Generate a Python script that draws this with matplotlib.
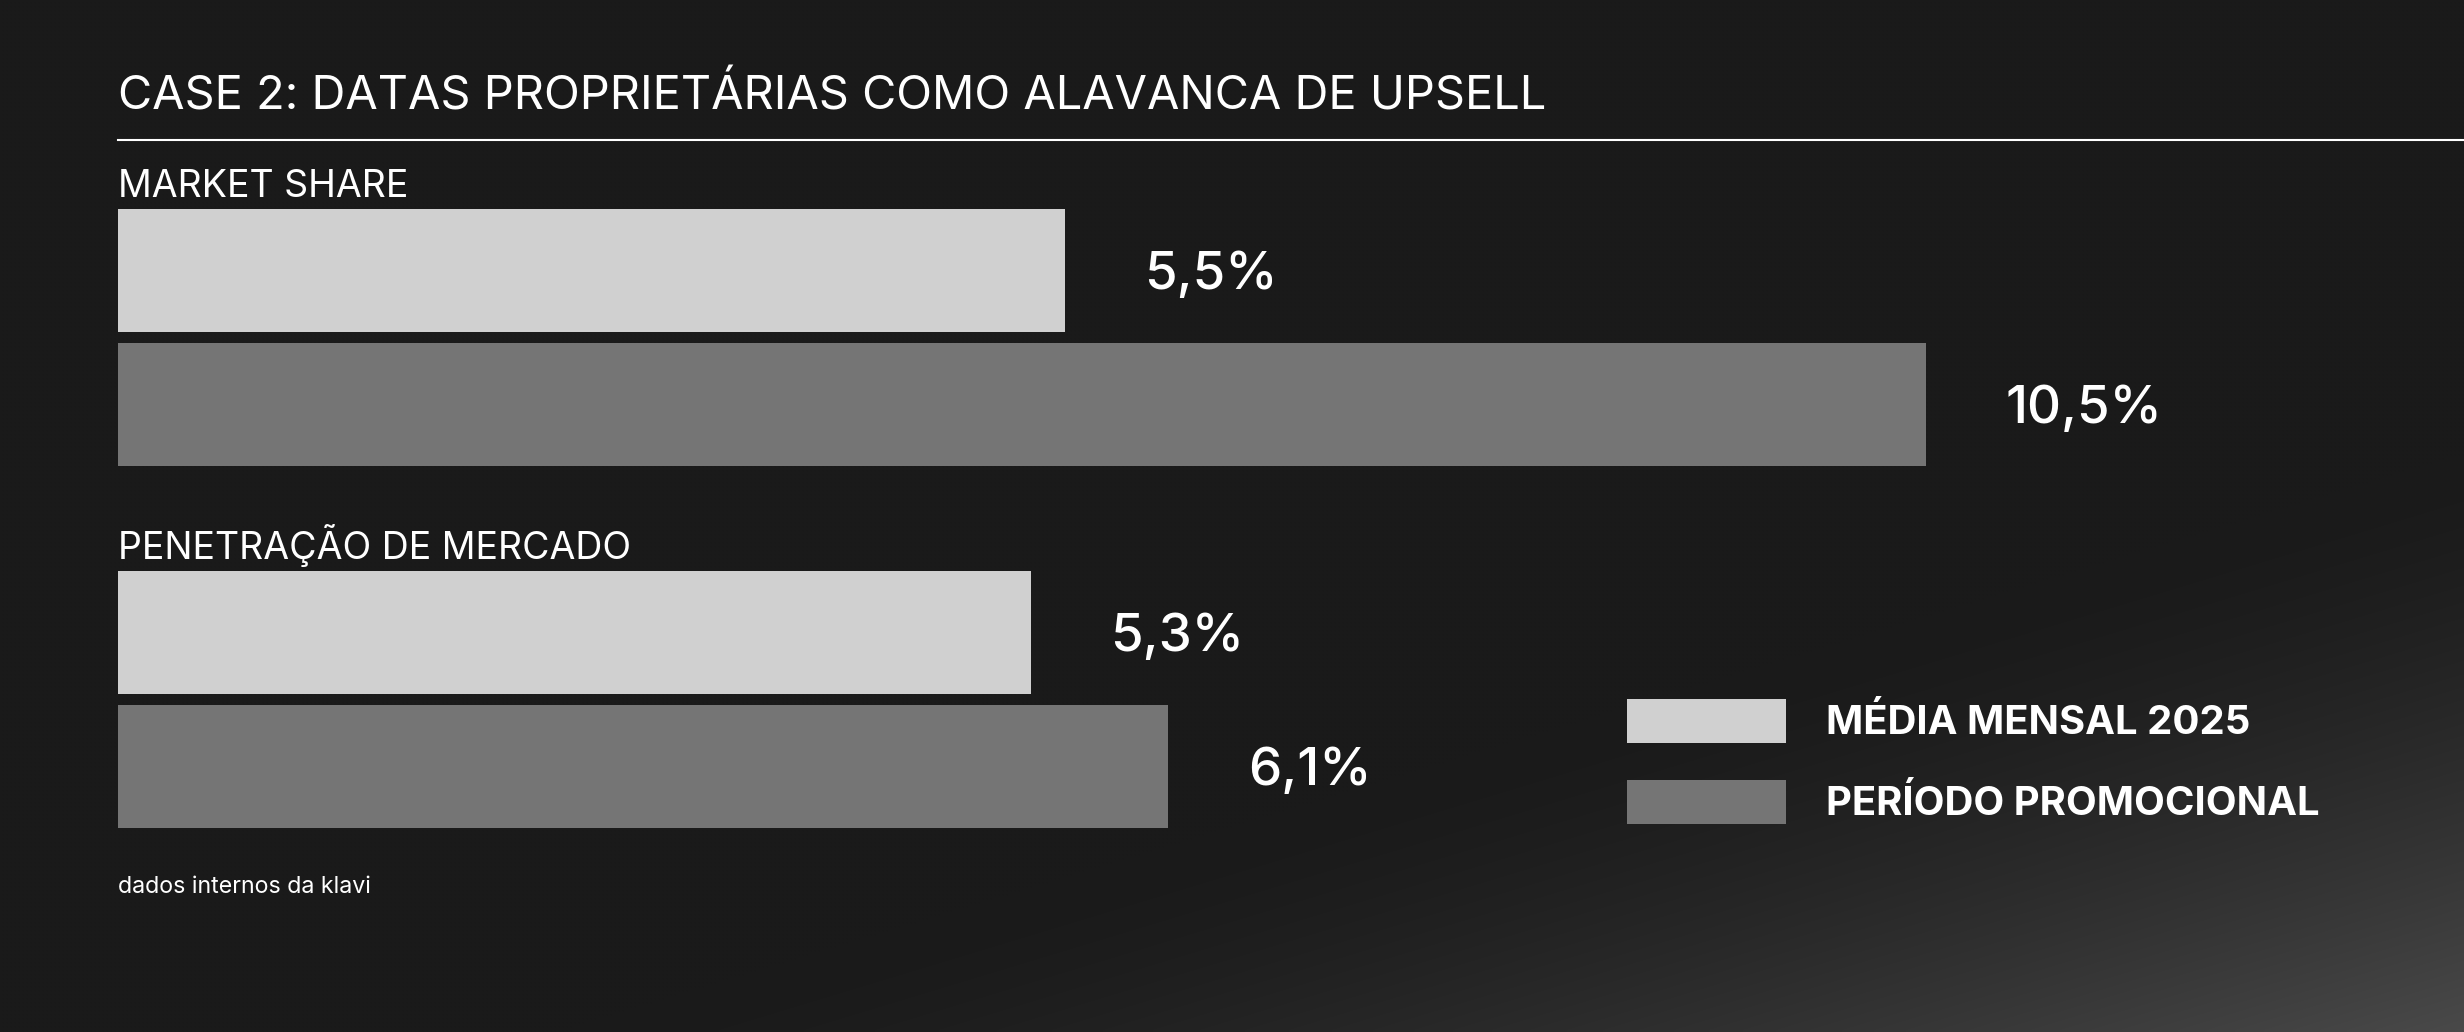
import numpy as np
import matplotlib
matplotlib.use("Agg")
import matplotlib.pyplot as plt
from matplotlib.patches import Rectangle

# ---------------- data ----------------
title = "CASE 2: DATAS PROPRIETÁRIAS COMO ALAVANCA DE UPSELL"
categories = ["MARKET SHARE", "PENETRAÇÃO DE MERCADO"]
series_names = ["MÉDIA MENSAL 2025", "PERÍODO PROMOCIONAL"]
media_mensal_2025 = [5.5, 5.3]
periodo_promocional = [10.5, 6.1]
value_labels = [["5,5%", "5,3%"], ["10,5%", "6,1%"]]
footnote = "dados internos da klavi"

# ---------------- style ----------------
W, H, DPI = 2464, 1032, 100
BG = "#1a1a1a"
colors = ["#d0d0d0", "#757575"]
FONT = ["Inter", "DejaVu Sans"]
plt.rcParams["font.family"] = FONT

fig = plt.figure(figsize=(W / DPI, H / DPI), dpi=DPI, facecolor=BG)

# background gradient (lighter towards bottom-right, diagonal band)
bg = fig.add_axes([0, 0, 1, 1], zorder=0)
yy, xx = np.mgrid[0:H:4, 0:W:4].astype(float)
s = xx * 0.29 + yy * 0.957
t = np.clip((s - 1150.0) / 553.0, 0, 1) ** 1.5
v = (26 + 48 * t) / 255.0
img = np.dstack([v, v, v])
bg.imshow(img, extent=[0, W, H, 0], aspect="auto", interpolation="bilinear")
bg.set_xlim(0, W)
bg.set_ylim(H, 0)
bg.axis("off")

# main axes: x in percent units, y in pixel layout units (top down)
left_px = 118
px_per_unit = 172.2
ax = fig.add_axes([left_px / W, 0, (W - left_px) / W, 1], zorder=1)
ax.set_xlim(0, (W - left_px) / px_per_unit)
ax.set_ylim(H, 0)
ax.axis("off")
ax.patch.set_alpha(0)

bar_h = 123
first_center = 270.5
group_gap = 362
bar_gap = 134
series = [media_mensal_2025, periodo_promocional]

for si, vals in enumerate(series):
    ys = [first_center + g * group_gap + si * bar_gap for g in range(len(categories))]
    ax.barh(ys, vals, height=bar_h, color=colors[si], linewidth=0)
    for g, (y, val) in enumerate(zip(ys, vals)):
        ax.text(val + 0.46, y + 19, value_labels[si][g], color="white",
                fontsize=38, fontweight="medium", va="baseline", ha="left")

# category labels above each group
for g, cat in enumerate(categories):
    top = first_center + g * group_gap - bar_h / 2
    ax.text(0, top - 12, cat, color="white", fontsize=27, fontweight="normal",
            va="baseline", ha="left")

# title and rule
fig.text(left_px / W, 1 - 110 / H, title, color="white", fontsize=33.8,
         fontweight="normal", va="baseline", ha="left")
fig.add_artist(plt.Line2D([left_px / W, 1], [1 - 140 / H, 1 - 140 / H],
                          color="white", lw=1.5))

# footnote
fig.text(left_px / W, 1 - 893 / H, footnote, color="white", fontsize=16.7,
         va="baseline", ha="left")

# legend (manual)
leg_x, leg_w, leg_h = 1627, 159, 44
leg_centers = [721, 802]
for i, name in enumerate(series_names):
    cy = leg_centers[i]
    fig.add_artist(Rectangle((leg_x / W, 1 - (cy + leg_h / 2) / H), leg_w / W, leg_h / H,
                             transform=fig.transFigure, facecolor=colors[i],
                             edgecolor="none", zorder=3))
    fig.text(1826 / W, 1 - (cy + 13) / H, name, color="white", fontsize=28.8,
             fontweight="bold", va="baseline", ha="left", zorder=3)

fig.savefig("out.png", dpi=DPI, facecolor=BG)
